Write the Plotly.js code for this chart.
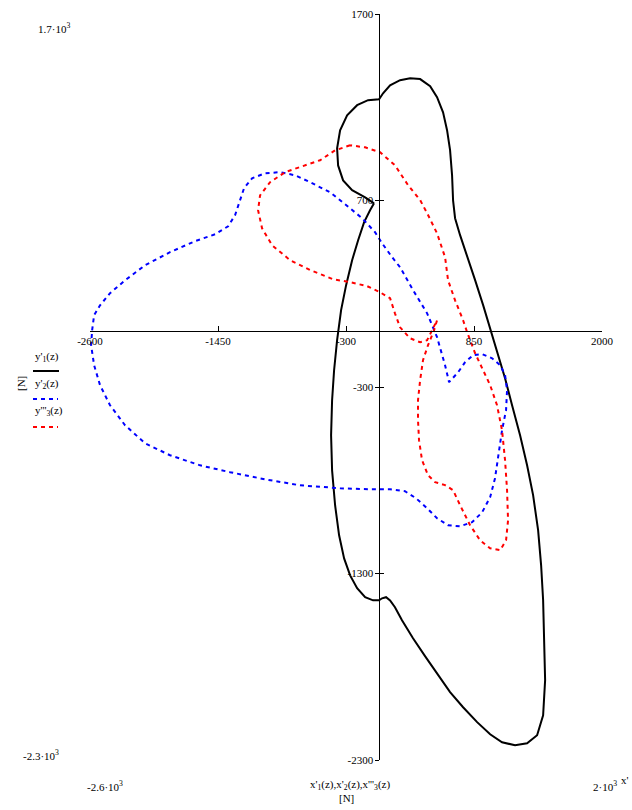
<!DOCTYPE html>
<html>
<head>
<meta charset="utf-8">
<script src="https://cdn.plot.ly/plotly-3.0.1.min.js"></script>
<style>html,body{margin:0;padding:0;background:#fff;}#chart{width:632px;height:810px;}</style>
</head>
<body>
<div id="chart"></div>
<script>
// y'1(z) vs x'1(z) — black solid
const x1 = [-48,-128,-245,-326,-371,-380,-353,-290,-200,-102,-3,33,96,186,276,366,456,518,572,608,635,653,662,680,725,788,860,932,995,1057,1129,1192,1264,1327,1381,1426,1453,1471,1480,1489,1471,1417,1327,1219,1102,995,878,752,635,527,410,302,203,140,96,60,24,-3,-57,-128,-200,-263,-317,-362,-398,-425,-434,-425,-407,-380,-344,-299,-245,-191,-137,-84,-48];
const y1 = [685,717,755,808,888,980,1076,1157,1211,1238,1243,1275,1318,1345,1356,1351,1313,1254,1173,1077,970,835,701,605,514,407,273,139,15,-114,-253,-398,-559,-720,-880,-1068,-1256,-1443,-1658,-1872,-2060,-2167,-2210,-2221,-2205,-2162,-2097,-2017,-1936,-1845,-1743,-1647,-1551,-1481,-1444,-1427,-1433,-1444,-1444,-1427,-1379,-1310,-1219,-1095,-934,-747,-559,-371,-210,-49,112,246,380,487,584,648,685];

// y'2(z) vs x'2(z) — blue dotted
const x2 = [-2581,-2563,-2510,-2420,-2285,-2105,-1881,-1656,-1476,-1359,-1297,-1261,-1216,-1144,-1027,-892,-757,-622,-443,-308,-155,-39,24,114,186,303,429,518,590,626,707,770,842,923,1013,1085,1129,1147,1138,1102,1066,1039,995,923,833,725,617,518,429,330,230,96,-84,-353,-713,-1027,-1341,-1611,-1881,-2105,-2285,-2420,-2510,-2563,-2590,-2581];
const y2 = [4,85,138,203,272,353,423,482,519,562,621,685,766,819,846,852,835,798,744,680,605,530,471,396,342,219,95,-33,-183,-274,-221,-167,-129,-124,-146,-183,-236,-317,-424,-532,-666,-789,-891,-972,-1025,-1047,-1041,-1004,-950,-897,-859,-848,-848,-843,-827,-795,-757,-720,-666,-602,-505,-398,-290,-183,-76,4];

// y'''3(z) vs x'''3(z) — red dotted
const x3 = [-263,-398,-533,-713,-847,-982,-1072,-1090,-1054,-964,-802,-623,-416,-263,-111,6,96,140,186,276,366,429,482,518,491,437,392,366,347,347,356,383,437,500,590,662,725,815,905,995,1085,1138,1156,1147,1129,1102,1057,995,932,860,788,752,680,617,590,518,429,366,258,140,6,-128,-263];
const y3 = [996,969,916,878,852,798,728,648,551,460,380,327,278,262,241,208,176,95,20,-39,-60,-49,15,58,4,-76,-156,-263,-370,-478,-585,-692,-773,-810,-826,-853,-934,-1041,-1122,-1165,-1175,-1122,-1015,-853,-692,-532,-398,-290,-210,-119,-6,58,165,272,396,524,632,702,782,889,959,985,996];

const xTicks = [-2600,-1450,-300,850,2000];
const xTickText = ['-2600','-1450','-300','850','2000'];
const yTicks = [-2300,-1300,-300,700,1700];
const yTickText = ['-2300','-1300','-300','700','1700'];
const xRange = [-2600, 2000];
const yRange = [-2300, 1700];
const seriesNames = ["y'<sub>1</sub>(z)", "y'<sub>2</sub>(z)", "y'''<sub>3</sub>(z)"];

const FONT = 'Liberation Serif, Times New Roman, serif';

const traces = [
  {x:x1, y:y1, mode:'lines', line:{color:'#000000', width:2}, name:seriesNames[0], hoverinfo:'skip'},
  {x:x2, y:y2, mode:'lines', line:{color:'#0000ff', width:2, dash:'4px,4px'}, name:seriesNames[1], hoverinfo:'skip'},
  {x:x3, y:y3, mode:'lines', line:{color:'#ff0000', width:2, dash:'4px,4px'}, name:seriesNames[2], hoverinfo:'skip'},
  {x:[], y:[], yaxis:'y2', mode:'lines', showlegend:false, hoverinfo:'skip'}
];

const yPos = (0 - xRange[0]) / (xRange[1] - xRange[0]);
const xPos = (0 - yRange[0]) / (yRange[1] - yRange[0]);

function ann(text, x, y, opts) {
  return Object.assign({text:text, x:x, y:y, xref:'paper', yref:'paper', showarrow:false,
    font:{family:FONT, size:11, color:'#000'}, xanchor:'left', yanchor:'middle'}, opts||{});
}
// paper coordinates helpers (plot area: x 90..602, y 14..760)
const px = v => (v - 90) / 512;
const py = v => (760 - v) / 746;

const layout = {
  width:632, height:810, autosize:false,
  margin:{l:90, r:30, t:14, b:50, pad:0},
  paper_bgcolor:'#ffffff', plot_bgcolor:'#ffffff',
  showlegend:false,
  font:{family:FONT, size:11, color:'#000'},
  xaxis:{range:xRange, anchor:'free', position:xPos, showgrid:false, zeroline:false,
    showline:true, linecolor:'#000', linewidth:1, ticks:'inside', ticklen:5, tickcolor:'#000',
    tickvals:xTicks, ticktext:xTickText, tickfont:{family:FONT, size:11, color:'#000'}},
  yaxis:{range:yRange, anchor:'free', position:yPos, showgrid:false, zeroline:false,
    showline:true, linecolor:'#000', linewidth:1, ticks:'outside', ticklen:4, tickcolor:'#000',
    tickvals:yTicks, ticktext:yTickText, tickfont:{family:FONT, size:11, color:'#000'}},
  yaxis2:{range:yRange, overlaying:'y', anchor:'free', position:yPos, showgrid:false, zeroline:false,
    showline:false, ticks:'inside', ticklen:4, tickcolor:'#000', tickvals:yTicks, showticklabels:false},
  annotations:[
    ann('1.7·10<sup>3</sup>', px(36), py(28)),
    ann('-2.3·10<sup>3</sup>', px(21), py(755)),
    ann('-2.6·10<sup>3</sup>', px(85), py(786)),
    ann('2·10<sup>3</sup>', px(591), py(786)),
    ann("x'", px(631), py(780), {xanchor:'right'}),
    ann("x'<sub>1</sub>(z),x'<sub>2</sub>(z),x'''<sub>3</sub>(z)", px(350), py(785), {xanchor:'center'}),
    ann('[N]', px(346), py(798), {xanchor:'center'}),
    ann(seriesNames[0], px(33), py(357)),
    ann(seriesNames[1], px(33), py(384)),
    ann(seriesNames[2], px(33), py(411)),
    ann('[N]', px(21), py(384), {xanchor:'center', textangle:-90})
  ],
  shapes:[
    {type:'line', xref:'paper', yref:'paper', x0:px(33), x1:px(59), y0:py(371), y1:py(371), line:{color:'#000', width:2}},
    {type:'line', xref:'paper', yref:'paper', x0:px(33), x1:px(58), y0:py(399), y1:py(399), line:{color:'#0000ff', width:2, dash:'4px,4px'}},
    {type:'line', xref:'paper', yref:'paper', x0:px(33), x1:px(58), y0:py(427), y1:py(427), line:{color:'#ff0000', width:2, dash:'4px,4px'}}
  ]
};

Plotly.newPlot('chart', traces, layout, {staticPlot:true, displayModeBar:false});
</script>
</body>
</html>
